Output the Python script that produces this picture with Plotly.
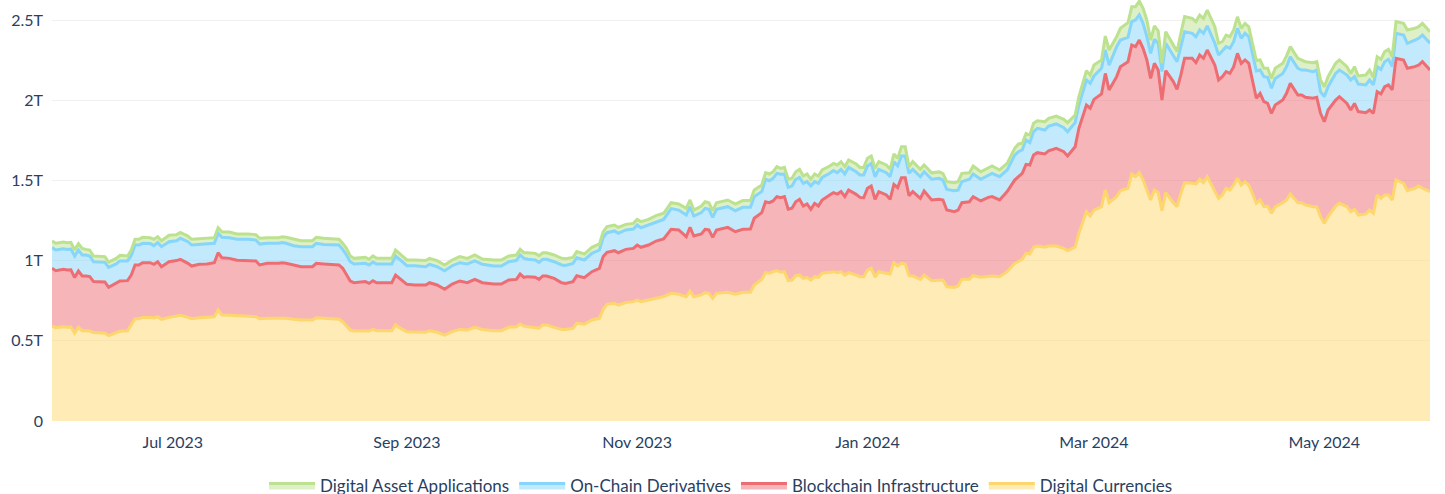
import plotly.graph_objects as go

dates = [
    "2023-05-30", "2023-05-31", "2023-06-02", "2023-06-03", "2023-06-04", "2023-06-05", "2023-06-06", "2023-06-07", "2023-06-08", "2023-06-09",
    "2023-06-10", "2023-06-12", "2023-06-13", "2023-06-14", "2023-06-16", "2023-06-17", "2023-06-19", "2023-06-20", "2023-06-21", "2023-06-22",
    "2023-06-23", "2023-06-25", "2023-06-26", "2023-06-27", "2023-06-28", "2023-06-30", "2023-07-02", "2023-07-03", "2023-07-05", "2023-07-06",
    "2023-07-08", "2023-07-10", "2023-07-12", "2023-07-13", "2023-07-14", "2023-07-16", "2023-07-18", "2023-07-21", "2023-07-23", "2023-07-24",
    "2023-07-26", "2023-07-29", "2023-07-30", "2023-07-31", "2023-08-02", "2023-08-04", "2023-08-07", "2023-08-08", "2023-08-10", "2023-08-14",
    "2023-08-15", "2023-08-16", "2023-08-17", "2023-08-18", "2023-08-21", "2023-08-22", "2023-08-23", "2023-08-24", "2023-08-28", "2023-08-29",
    "2023-08-30", "2023-09-01", "2023-09-03", "2023-09-06", "2023-09-07", "2023-09-09", "2023-09-11", "2023-09-13", "2023-09-15", "2023-09-17",
    "2023-09-19", "2023-09-21", "2023-09-24", "2023-09-26", "2023-09-28", "2023-09-30", "2023-10-01", "2023-10-02", "2023-10-03", "2023-10-05",
    "2023-10-06", "2023-10-07", "2023-10-08", "2023-10-10", "2023-10-12", "2023-10-13", "2023-10-15", "2023-10-16", "2023-10-18", "2023-10-20",
    "2023-10-22", "2023-10-23", "2023-10-24", "2023-10-26", "2023-10-27", "2023-10-29", "2023-10-31", "2023-11-01", "2023-11-02", "2023-11-04",
    "2023-11-06", "2023-11-08", "2023-11-10", "2023-11-12", "2023-11-14", "2023-11-15", "2023-11-16", "2023-11-18", "2023-11-19", "2023-11-20",
    "2023-11-21", "2023-11-22", "2023-11-25", "2023-11-27", "2023-11-29", "2023-12-01", "2023-12-02", "2023-12-04", "2023-12-05", "2023-12-06",
    "2023-12-07", "2023-12-08", "2023-12-09", "2023-12-10", "2023-12-11", "2023-12-12", "2023-12-13", "2023-12-14", "2023-12-15", "2023-12-16",
    "2023-12-17", "2023-12-18", "2023-12-19", "2023-12-20", "2023-12-22", "2023-12-23", "2023-12-24", "2023-12-25", "2023-12-26", "2023-12-27",
    "2023-12-29", "2023-12-30", "2023-12-31", "2024-01-01", "2024-01-02", "2024-01-03", "2024-01-04", "2024-01-06", "2024-01-07", "2024-01-08",
    "2024-01-09", "2024-01-10", "2024-01-11", "2024-01-12", "2024-01-13", "2024-01-15", "2024-01-16", "2024-01-18", "2024-01-20", "2024-01-21",
    "2024-01-22", "2024-01-24", "2024-01-25", "2024-01-26", "2024-01-28", "2024-01-29", "2024-01-31", "2024-02-02", "2024-02-03", "2024-02-05",
    "2024-02-07", "2024-02-09", "2024-02-10", "2024-02-11", "2024-02-12", "2024-02-13", "2024-02-14", "2024-02-15", "2024-02-17", "2024-02-18",
    "2024-02-20", "2024-02-22", "2024-02-23", "2024-02-25", "2024-02-26", "2024-02-28", "2024-02-29", "2024-03-01", "2024-03-03", "2024-03-04",
    "2024-03-05", "2024-03-07", "2024-03-08", "2024-03-10", "2024-03-11", "2024-03-12", "2024-03-13", "2024-03-14", "2024-03-15", "2024-03-16",
    "2024-03-17", "2024-03-18", "2024-03-19", "2024-03-20", "2024-03-22", "2024-03-23", "2024-03-24", "2024-03-25", "2024-03-27", "2024-03-28",
    "2024-03-29", "2024-03-30", "2024-03-31", "2024-04-02", "2024-04-03", "2024-04-04", "2024-04-05", "2024-04-06", "2024-04-07", "2024-04-08",
    "2024-04-09", "2024-04-10", "2024-04-11", "2024-04-13", "2024-04-14", "2024-04-15", "2024-04-16", "2024-04-17", "2024-04-18", "2024-04-20",
    "2024-04-21", "2024-04-22", "2024-04-24", "2024-04-25", "2024-04-26", "2024-04-28", "2024-04-29", "2024-04-30", "2024-05-01", "2024-05-02",
    "2024-05-04", "2024-05-05", "2024-05-07", "2024-05-08", "2024-05-09", "2024-05-10", "2024-05-12", "2024-05-13", "2024-05-14", "2024-05-15",
    "2024-05-16", "2024-05-17", "2024-05-18", "2024-05-19", "2024-05-20", "2024-05-22", "2024-05-23", "2024-05-25", "2024-05-26", "2024-05-27",
    "2024-05-29",
]

# values in billions of USD
digital_currencies = [
    592, 582, 588, 584, 586, 547, 584, 563, 563, 561,
    551, 547, 547, 532, 547, 559, 563, 599, 638, 638,
    646, 646, 642, 650, 634, 646, 655, 659, 646, 638,
    644, 646, 650, 692, 661, 659, 655, 653, 650, 638,
    640, 640, 642, 640, 634, 630, 630, 644, 640, 634,
    619, 592, 567, 561, 563, 561, 571, 563, 563, 599,
    582, 557, 555, 553, 563, 553, 536, 557, 571, 567,
    584, 571, 563, 563, 584, 588, 605, 592, 588, 584,
    578, 599, 599, 584, 571, 571, 578, 609, 603, 630,
    640, 696, 727, 734, 723, 738, 744, 754, 744, 754,
    765, 775, 796, 790, 775, 810, 775, 786, 800, 796,
    765, 796, 802, 790, 802, 802, 848, 883, 925, 921,
    931, 937, 927, 931, 875, 879, 906, 910, 889, 894,
    879, 900, 896, 921, 927, 931, 925, 931, 910, 925,
    910, 900, 900, 941, 952, 896, 931, 921, 916, 987,
    966, 983, 979, 906, 904, 883, 910, 875, 879, 879,
    837, 833, 842, 883, 883, 906, 896, 904, 904, 900,
    931, 983, 998, 1008, 1045, 1041, 1083, 1091, 1083, 1091,
    1091, 1076, 1062, 1083, 1170, 1305, 1278, 1315, 1336, 1440,
    1361, 1399, 1436, 1451, 1540, 1523, 1548, 1502, 1440, 1378,
    1440, 1424, 1311, 1424, 1361, 1336, 1419, 1486, 1482, 1478,
    1507, 1486, 1523, 1430, 1388, 1409, 1451, 1440, 1471, 1513,
    1471, 1492, 1471, 1357, 1378, 1336, 1340, 1295, 1336, 1361,
    1378, 1415, 1361, 1361, 1347, 1336, 1336, 1274, 1232, 1274,
    1340, 1357, 1336, 1305, 1320, 1284, 1291, 1315, 1295, 1409,
    1388, 1409, 1409, 1378, 1503, 1482, 1436, 1451, 1465, 1451,
    1430,
]

blockchain_infrastructure = [
    360, 355, 358, 357, 357, 347, 351, 341, 341, 339,
    318, 320, 320, 301, 311, 314, 312, 311, 335, 335,
    341, 341, 335, 343, 328, 347, 345, 349, 337, 328,
    333, 333, 337, 357, 357, 355, 347, 347, 348, 335,
    343, 343, 345, 343, 339, 332, 332, 339, 339, 339,
    333, 318, 306, 301, 306, 297, 304, 299, 299, 311,
    307, 295, 293, 295, 299, 295, 285, 297, 302, 295,
    299, 291, 291, 291, 295, 295, 311, 304, 312, 312,
    305, 305, 305, 305, 291, 287, 291, 297, 291, 301,
    312, 329, 325, 328, 326, 332, 332, 343, 339, 343,
    357, 360, 399, 401, 374, 397, 378, 380, 395, 395,
    380, 395, 405, 390, 393, 395, 416, 416, 442, 440,
    441, 462, 465, 468, 445, 447, 461, 472, 451, 459,
    441, 457, 444, 457, 482, 493, 490, 499, 489, 515,
    503, 494, 492, 510, 513, 486, 499, 488, 466, 488,
    489, 534, 538, 499, 526, 505, 524, 503, 503, 499,
    478, 472, 473, 478, 484, 493, 476, 490, 495, 478,
    499, 519, 525, 536, 555, 555, 575, 582, 582, 594,
    609, 603, 590, 627, 655, 665, 672, 690, 703, 727,
    703, 748, 773, 789, 804, 811, 827, 821, 811, 758,
    790, 764, 690, 760, 755, 732, 738, 775, 779, 756,
    775, 775, 790, 789, 738, 738, 727, 727, 738, 779,
    759, 759, 759, 655, 665, 655, 640, 623, 634, 640,
    665, 690, 671, 671, 671, 676, 682, 644, 634, 665,
    661, 665, 644, 634, 660, 645, 631, 624, 623, 644,
    651, 675, 686, 686, 758, 769, 763, 758, 754, 789,
    758,
]

on_chain_derivatives = [
    129, 129, 128, 129, 129, 135, 131, 131, 131, 129,
    124, 122, 122, 125, 121, 125, 123, 121, 124, 124,
    121, 119, 116, 119, 125, 125, 124, 131, 135, 131,
    124, 124, 121, 121, 127, 129, 131, 133, 130, 130,
    125, 125, 125, 125, 120, 125, 125, 125, 122, 124,
    118, 125, 120, 117, 114, 115, 116, 117, 117, 119,
    119, 116, 120, 114, 115, 114, 116, 114, 114, 117,
    115, 115, 112, 112, 114, 117, 119, 118, 108, 108,
    106, 104, 104, 104, 111, 112, 114, 112, 110, 114,
    114, 120, 122, 123, 121, 121, 121, 125, 122, 125,
    121, 122, 129, 124, 135, 129, 125, 133, 131, 129,
    125, 129, 129, 131, 137, 135, 135, 131, 140, 137,
    141, 145, 146, 141, 137, 139, 140, 137, 142, 139,
    145, 135, 142, 141, 135, 137, 133, 139, 141, 141,
    141, 140, 142, 139, 141, 141, 139, 139, 141, 142,
    135, 135, 135, 139, 139, 135, 120, 129, 131, 124,
    129, 131, 125, 131, 140, 141, 135, 140, 145, 145,
    135, 156, 156, 146, 152, 139, 146, 152, 149, 154,
    152, 150, 152, 150, 145, 156, 155, 146, 160, 146,
    155, 187, 166, 152, 146, 166, 156, 156, 145, 156,
    149, 167, 177, 171, 166, 172, 177, 166, 156, 162,
    156, 156, 150, 136, 156, 162, 156, 156, 156, 156,
    156, 166, 166, 170, 145, 156, 163, 156, 166, 166,
    166, 166, 167, 156, 170, 166, 170, 135, 156, 145,
    166, 166, 177, 187, 167, 172, 173, 187, 177, 156,
    153, 156, 160, 145, 156, 155, 156, 166, 167, 166,
    167,
]

digital_asset_applications = [
    41, 42, 42, 42, 42, 37, 40, 41, 35, 37,
    36, 36, 36, 33, 35, 35, 31, 35, 36, 36,
    37, 37, 40, 37, 37, 40, 38, 37, 35, 36,
    36, 36, 35, 35, 35, 35, 33, 33, 34, 36,
    35, 35, 37, 37, 40, 37, 37, 37, 38, 36,
    38, 41, 36, 35, 37, 35, 38, 35, 35, 37,
    37, 36, 36, 38, 37, 38, 36, 36, 38, 35,
    37, 33, 38, 38, 36, 35, 35, 35, 41, 41,
    42, 41, 41, 42, 41, 42, 37, 38, 37, 38,
    38, 35, 38, 37, 37, 35, 35, 35, 38, 35,
    37, 38, 37, 38, 42, 42, 37, 41, 41, 41,
    41, 41, 42, 42, 42, 42, 41, 41, 41, 42,
    41, 42, 37, 41, 50, 48, 47, 50, 45, 48,
    42, 48, 45, 46, 46, 45, 48, 48, 46, 46,
    48, 47, 47, 48, 46, 52, 48, 48, 46, 48,
    48, 58, 58, 42, 48, 46, 42, 40, 40, 40,
    48, 50, 52, 52, 41, 50, 47, 47, 46, 42,
    41, 42, 48, 41, 41, 48, 52, 47, 52, 48,
    49, 52, 56, 48, 52, 58, 52, 68, 52, 87,
    94, 62, 73, 91, 93, 83, 87, 94, 104, 83,
    84, 78, 52, 72, 62, 63, 83, 94, 93, 94,
    93, 93, 99, 103, 73, 56, 72, 73, 73, 72,
    62, 62, 62, 65, 63, 52, 56, 62, 63, 63,
    67, 63, 62, 63, 52, 56, 52, 73, 62, 63,
    63, 63, 52, 41, 62, 50, 62, 62, 48, 62,
    63, 63, 62, 62, 73, 73, 83, 73, 72, 73,
    72,
]

series_names = ["Digital Currencies", "Blockchain Infrastructure",
                "On-Chain Derivatives", "Digital Asset Applications"]
series_values = [digital_currencies, blockchain_infrastructure,
                 on_chain_derivatives, digital_asset_applications]
series_colors = ["#FDD76E", "#ED6D73", "#86D5FA", "#BCE290"]

y_tick_vals = [0, 0.5e12, 1e12, 1.5e12, 2e12, 2.5e12]
y_tick_text = ["0", "0.5T", "1T", "1.5T", "2T", "2.5T"]

for v in series_values:
    assert len(v) == len(dates), (len(v), len(dates))

fig = go.Figure()
for name, vals, color in zip(series_names, series_values, series_colors):
    fig.add_trace(go.Scatter(
        x=dates,
        y=[v * 1e9 for v in vals],
        name=name,
        mode="lines",
        stackgroup="one",
        line=dict(color=color, width=3),
    ))

fig.update_layout(
    width=1445,
    height=512,
    margin=dict(l=52, r=15, t=0, b=91),
    paper_bgcolor="white",
    plot_bgcolor="white",
    font=dict(family="Lato", size=16, color="#2a3f5f"),
    showlegend=True,
    legend=dict(
        orientation="h",
        x=0.4855,
        xanchor="center",
        y=-0.154,
        yanchor="middle",
        traceorder="reversed",
        itemwidth=46,
        font=dict(size=17),
    ),
    xaxis=dict(
        type="date",
        range=[dates[0], dates[-1]],
        tickformat="%b %Y",
        dtick="M2",
        tick0="2023-07-01",
        showgrid=False,
        showline=False,
        zeroline=False,
        ticks="",
        ticklabelstandoff=10,
        automargin=False,
    ),
    yaxis=dict(
        range=[0, 2.6247e12],
        tickvals=y_tick_vals,
        ticktext=y_tick_text,
        gridcolor="#f0f0f0",
        zeroline=False,
        showline=False,
        ticks="",
        ticklabelstandoff=8,
        automargin=False,
    ),
)

fig.write_html(
    "out.html",
    config={"displayModeBar": False},
    post_script="document.body.style.margin='0px';",
)
